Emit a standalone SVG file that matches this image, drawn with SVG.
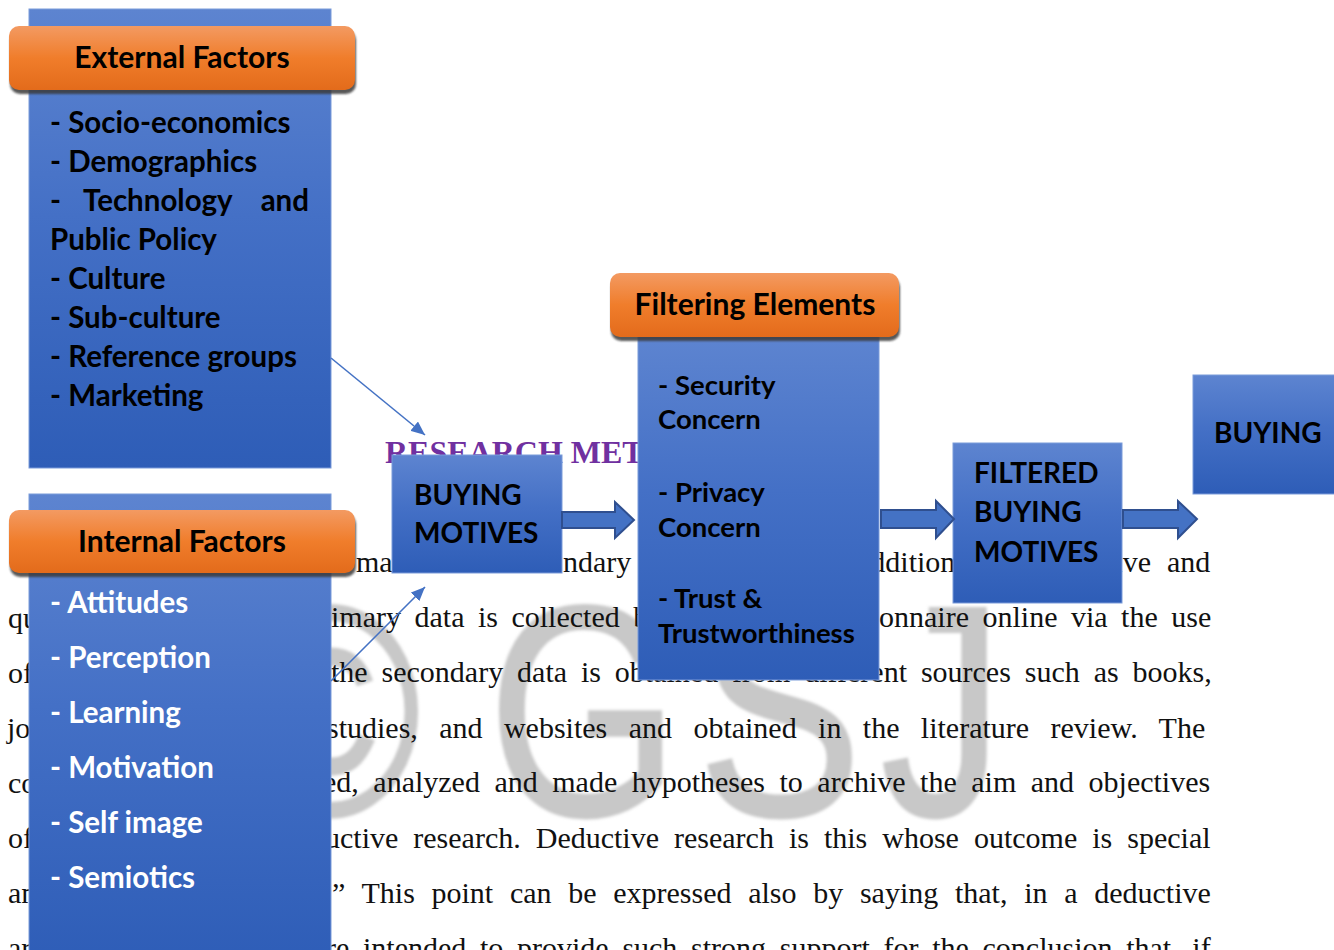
<svg xmlns="http://www.w3.org/2000/svg" width="1334" height="950" viewBox="0 0 1334 950">
<defs>
<linearGradient id="blueG" x1="0" y1="0" x2="0" y2="1">
<stop offset="0" stop-color="#5d84d0"/>
<stop offset="0.45" stop-color="#4470c6"/>
<stop offset="1" stop-color="#2e5db7"/>
</linearGradient>
<linearGradient id="orangeG" x1="0" y1="0" x2="0" y2="1">
<stop offset="0" stop-color="#f39a62"/>
<stop offset="0.5" stop-color="#f07d2b"/>
<stop offset="1" stop-color="#e36b1b"/>
</linearGradient>
<filter id="soft" x="-5%" y="-5%" width="110%" height="110%"><feGaussianBlur stdDeviation="1.6"/></filter>
<filter id="shblur" x="-5%" y="-20%" width="110%" height="140%"><feGaussianBlur stdDeviation="1.2"/></filter>
<marker id="thinHead" markerUnits="userSpaceOnUse" markerWidth="14" markerHeight="12" refX="14" refY="6" orient="auto">
<path d="M0,0 L14,6 L0,12 Z" fill="#4472c4"/>
</marker>
<style>
.page{font-family:"Liberation Serif","Times New Roman",serif;font-size:30px;fill:#111}
.box{fill:url(#blueG);stroke:#7b9bd9;stroke-width:1}
.hdr{fill:url(#orangeG)}
.shadow{fill:#3a3a3a;opacity:.85}
.lbl{font-family:Lato,"Open Sans",sans-serif;font-weight:bold;font-size:29.5px;fill:#000}
.hd{text-anchor:middle;font-size:30px}
.cap{font-size:28px}
.wht{fill:#fff}
.sm{font-size:27.5px}
.blk{fill:#4472c4;stroke:#2f4f8f;stroke-width:2;stroke-linejoin:miter}
.thin{stroke:#4472c4;stroke-width:1.6;fill:none}
</style>
</defs>
<rect width="1334" height="950" fill="#fff"/>

<g id="watermark" filter="url(#soft)">
<text transform="scale(0.82,1)" x="292 595 851 1074" y="815" font-family="Liberation Sans,Arial,sans-serif" font-size="300" fill="#c8c8c8" stroke="#c8c8c8" stroke-width="3">©GSJ</text>
</g>

<g id="page-text" class="page">
<text x="8" y="628">qu</text>
<text x="8" y="683">of</text>
<text x="7" y="738">jo</text>
<text x="8" y="793">co</text>
<text x="8" y="848">of</text>
<text x="8" y="903">an</text>
<text x="8" y="958">ar</text>

<text x="356" y="572">ma</text>
<text x="563" y="572">ndary</text>
<text x="857" y="572">addition</text>
<text x="1106" y="572">tive</text>
<text x="1167" y="572">and</text>

<text x="331" y="627" word-spacing="6">imary data is collected b</text>
<text x="879" y="627" word-spacing="6">onnaire online via the use</text>
<text x="331" y="682" word-spacing="6.4">the secondary data is obtained from different sources such as books,</text>
<text x="327" y="738" word-spacing="13.9">studies, and websites and obtained in the literature review. The</text>
<text x="323" y="792" word-spacing="7">ed, analyzed and made hypotheses to archive the aim and objectives</text>
<text x="325" y="848" word-spacing="7.5">uctive research. Deductive research is this whose outcome is special</text>
<text x="332" y="903" word-spacing="9.2">” This point can be expressed also by saying that, in a deductive</text>
<text x="326" y="958" word-spacing="6.2">re intended to provide such strong support for the conclusion that, if</text>
</g>

<text id="heading" x="385" y="463" font-family="Liberation Serif,'Times New Roman',serif" font-weight="bold" font-size="32" fill="#7030a0">RESEARCH MET</text>

<g id="external-factors">
<rect class="box" x="29" y="9" width="302" height="459"/>
<rect class="shadow" x="10" y="30" width="346" height="64" rx="10" filter="url(#shblur)"/>
<rect class="hdr" x="9" y="26" width="346" height="64" rx="10"/>
<text class="lbl hd" x="182" y="68">External Factors</text>
<text class="lbl" x="50" y="133">- Socio-economics</text>
<text class="lbl" x="50" y="172">- Demographics</text>
<text class="lbl" x="50" y="211">-</text>
<text class="lbl" x="83" y="211">Technology</text>
<text class="lbl" x="309" y="211" text-anchor="end">and</text>
<text class="lbl" x="50" y="250">Public Policy</text>
<text class="lbl" x="50" y="289">- Culture</text>
<text class="lbl" x="50" y="328">- Sub-culture</text>
<text class="lbl" x="50" y="367">- Reference groups</text>
<text class="lbl" x="50" y="406">- Marketing</text>
</g>

<g id="internal-factors">
<rect class="box" x="29" y="494" width="302" height="470"/>
<rect class="shadow" x="10" y="514" width="346" height="63" rx="10" filter="url(#shblur)"/>
<rect class="hdr" x="9" y="510" width="346" height="63" rx="10"/>
<text class="lbl hd" x="182" y="552">Internal Factors</text>
<text class="lbl wht" x="50" y="613">- Attitudes</text>
<text class="lbl wht" x="50" y="668">- Perception</text>
<text class="lbl wht" x="50" y="723">- Learning</text>
<text class="lbl wht" x="50" y="778">- Motivation</text>
<text class="lbl wht" x="50" y="833">- Self image</text>
<text class="lbl wht" x="50" y="888">- Semiotics</text>
</g>

<g id="buying-motives">
<rect class="box" x="392" y="455" width="170" height="118"/>
<text class="lbl cap" x="414" y="505">BUYING</text>
<text class="lbl cap" x="414" y="543">MOTIVES</text>
</g>

<g id="filtering-elements">
<rect class="box" x="638" y="336" width="241" height="344"/>
<rect class="shadow" x="611" y="277" width="289" height="64" rx="10" filter="url(#shblur)"/>
<rect class="hdr" x="610" y="273" width="289" height="64" rx="10"/>
<text class="lbl hd" x="755" y="315">Filtering Elements</text>
<text class="lbl sm" x="658" y="395">- Security</text>
<text class="lbl sm" x="658" y="429">Concern</text>
<text class="lbl sm" x="658" y="502">- Privacy</text>
<text class="lbl sm" x="658" y="537">Concern</text>
<text class="lbl sm" x="658" y="608">- Trust &amp;</text>
<text class="lbl sm" x="658" y="643">Trustworthiness</text>
</g>

<g id="filtered-buying-motives">
<rect class="box" x="953" y="443" width="169" height="160"/>
<text class="lbl cap" x="974" y="483">FILTERED</text>
<text class="lbl cap" x="974" y="522">BUYING</text>
<text class="lbl cap" x="974" y="562">MOTIVES</text>
</g>

<g id="buying">
<rect class="box" x="1193" y="375" width="160" height="119"/>
<text class="lbl cap" x="1214" y="443">BUYING</text>
</g>

<g id="connectors">
<line class="thin" x1="331" y1="358" x2="425" y2="435" marker-end="url(#thinHead)"/>
<line class="thin" x1="331" y1="681" x2="425" y2="587" marker-end="url(#thinHead)"/>
<path class="blk" d="M562,512 H615 V502 L634,520 L615,538 V528 H562 Z"/>
<path class="blk" d="M881,510 H936 V501 L954,519 L936,538 V528 H881 Z"/>
<path class="blk" d="M1123,510 H1178 V501 L1197,519 L1178,538 V528 H1123 Z"/>
</g>
</svg>
